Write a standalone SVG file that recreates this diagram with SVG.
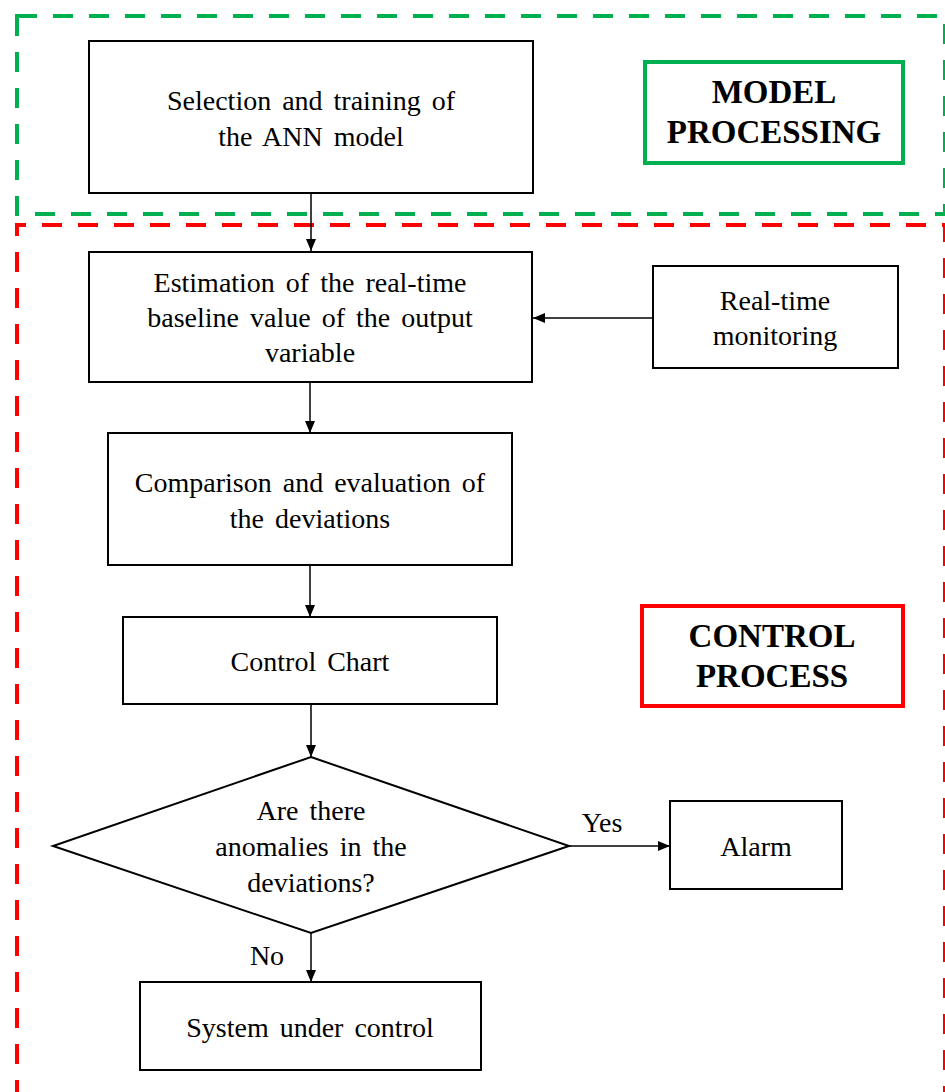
<svg xmlns="http://www.w3.org/2000/svg" width="945" height="1092" viewBox="0 0 945 1092">
<style>
.t{font-family:"Liberation Serif","Times New Roman",serif;font-size:28px;fill:#000;text-anchor:middle;word-spacing:4px}
.b{font-family:"Liberation Serif","Times New Roman",serif;font-size:33px;font-weight:bold;fill:#000;text-anchor:middle}
.n{fill:#fff;stroke:#000;stroke-width:2}
.c{stroke:#000;stroke-width:1.5;fill:none;marker-end:url(#ah)}
</style>
<defs>
<marker id="ah" viewBox="0 0 12 10" refX="12" refY="5" markerWidth="12" markerHeight="10" markerUnits="userSpaceOnUse" orient="auto">
<path d="M0,0 L12,5 L0,10 Z" fill="#000"/>
</marker>
</defs>
<rect width="945" height="1092" fill="#fff"/>
<g id="regions">
<path d="M17,16 H945 V214 H17 Z" fill="none" stroke="#00B050" stroke-width="4" stroke-dasharray="20 16"/>
<path d="M17,1100 V225 H945 V1100" fill="none" stroke="#FF0000" stroke-width="4" stroke-dasharray="20 16"/>
</g>
<g id="label-model">
<rect x="645" y="62" width="258" height="101" fill="none" stroke="#00B050" stroke-width="4"/>
<text class="b" x="774" y="103">MODEL</text>
<text class="b" x="774" y="143">PROCESSING</text>
</g>
<g id="label-control">
<rect x="642" y="606" width="261" height="100" fill="none" stroke="#FF0000" stroke-width="4"/>
<text class="b" x="772" y="647">CONTROL</text>
<text class="b" x="772" y="687">PROCESS</text>
</g>
<g id="connectors">
<line class="c" x1="311" y1="193" x2="311" y2="251"/>
<line class="c" x1="310" y1="382" x2="310" y2="433"/>
<line class="c" x1="310" y1="565" x2="310" y2="617"/>
<line class="c" x1="311" y1="704" x2="311" y2="757"/>
<line class="c" x1="311" y1="933" x2="311" y2="982"/>
<line class="c" x1="653" y1="318" x2="533" y2="318"/>
<line class="c" x1="569" y1="846" x2="670" y2="846"/>
<text class="t" x="602" y="832">Yes</text>
<text class="t" x="267" y="965">No</text>
</g>
<g id="n1">
<rect class="n" x="89" y="41" width="444" height="152"/>
<text class="t" x="311" y="110">Selection and training of</text>
<text class="t" x="311" y="146">the ANN model</text>
</g>
<g id="n2">
<rect class="n" x="89" y="252" width="443" height="130"/>
<text class="t" x="310" y="292">Estimation of the real-time</text>
<text class="t" x="310" y="327">baseline value of the output</text>
<text class="t" x="310" y="362">variable</text>
</g>
<g id="n3">
<rect class="n" x="653" y="266" width="245" height="102"/>
<text class="t" x="775" y="310">Real-time</text>
<text class="t" x="775" y="345">monitoring</text>
</g>
<g id="n4">
<rect class="n" x="108" y="433" width="404" height="132"/>
<text class="t" x="310" y="492">Comparison and evaluation of</text>
<text class="t" x="310" y="528">the deviations</text>
</g>
<g id="n5">
<rect class="n" x="123" y="617" width="374" height="87"/>
<text class="t" x="310" y="671">Control Chart</text>
</g>
<g id="n6">
<path class="n" d="M311,757 L569,846 L311,933 L53,846 Z"/>
<text class="t" x="311" y="820">Are there</text>
<text class="t" x="311" y="856">anomalies in the</text>
<text class="t" x="311" y="892">deviations?</text>
</g>
<g id="n7">
<rect class="n" x="670" y="801" width="172" height="88"/>
<text class="t" x="756" y="856">Alarm</text>
</g>
<g id="n8">
<rect class="n" x="140" y="982" width="341" height="88"/>
<text class="t" x="310" y="1037">System under control</text>
</g>
</svg>
